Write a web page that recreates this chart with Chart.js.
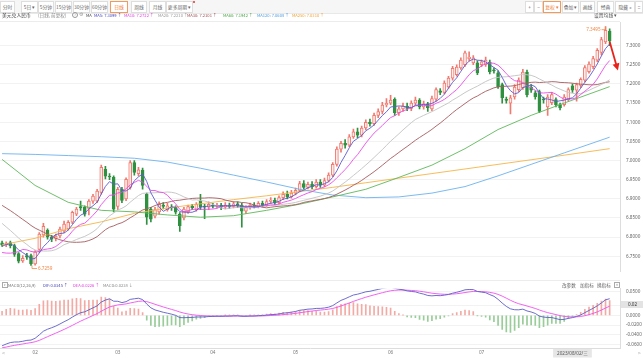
<!DOCTYPE html>
<html lang="zh-CN">
<head>
<meta charset="utf-8">
<title>美元兑人民币</title>
<script src="https://cdn.jsdelivr.net/npm/chart.js@4.4.1/dist/chart.umd.min.js"></script>
<style>
html,body{margin:0;padding:0;background:#fff;}
body{position:relative;width:643px;height:358px;overflow:hidden;font-family:"Noto Sans CJK SC","Noto Sans",sans-serif;}
canvas{position:absolute;left:0;}
.ui{position:absolute;white-space:nowrap;z-index:5;}
#row1{left:0;top:0;width:643px;height:14px;background:#f6f6f6;border-bottom:1px solid #e8e8e8;box-sizing:border-box;}
.tab{position:absolute;top:1px;height:12px;box-sizing:border-box;border:1px solid #dedede;background:#fff;color:#666;font-size:4.8px;line-height:10px;text-align:center;white-space:nowrap;}
.tab.on{border-color:#f29a5a;color:#f07a30;}
.t{position:absolute;white-space:nowrap;font-size:4.5px;line-height:6px;z-index:5;}
.lg{font-size:4.1px;}
.hl{position:absolute;left:0;width:620px;height:1px;background:#ececec;z-index:4;}
</style>
</head>
<body>
<canvas id="main" width="643" height="280" style="top:0"></canvas>
<canvas id="macd" width="643" height="78" style="top:280px"></canvas>

<div id="row1" class="ui">
  <div class="tab" style="left:0;width:15px">分时</div>
  <div class="tab" style="left:21px;width:17px">5日 ▾</div>
  <div class="tab" style="left:38px;width:16px">5分钟</div>
  <div class="tab" style="left:55px;width:17px">15分钟</div>
  <div class="tab" style="left:73px;width:17px">30分钟</div>
  <div class="tab" style="left:91px;width:17px">60分钟</div>
  <div class="tab on" style="left:110px;width:18px">日线</div>
  <div class="tab" style="left:131px;width:16px">周线</div>
  <div class="tab" style="left:149px;width:17px">月线</div>
  <div class="tab" style="left:166px;width:27px">更多周期 ▾</div>
  <div class="ui" style="left:193px;top:1px;width:2px;height:2px;border-radius:1px;background:#e53030"></div>
  <div class="tab" style="left:525px;width:9px">+</div>
  <div class="tab" style="left:534px;width:9px">−</div>
  <div class="tab on" style="left:543px;width:18px">复权 ▾</div>
  <div class="tab" style="left:562px;width:17px">叠加 ▾</div>
  <div class="tab" style="left:580px;width:15px">画线</div>
  <div class="tab" style="left:597px;width:17px">经典</div>
  <div class="tab" style="left:615px;width:20px">隐藏 »</div>
  <div class="tab" style="left:635px;width:8px">::</div>
</div>

<div class="t" style="left:2px;top:11.5px;color:#333;font-size:4.8px">美元兑人民币</div>
<div class="t" style="left:38px;top:11.5px;color:#888;font-size:4.6px">(日线, 前复权)</div>
<div class="ui" style="left:72px;top:12px;width:4px;height:4px;border:0.6px solid #999;border-radius:50%;font-size:3.4px;line-height:4px;text-align:center;color:#888">?</div>
<div class="t" style="left:78.5px;top:11.2px;color:#999;font-size:5px">⚙</div>
<div class="t lg" style="left:86px;top:11.5px;color:#444">MA</div>
<div id="maLegend"></div>
<div class="t" style="left:594px;top:11.5px;color:#555;font-size:4.8px">设置均线 ▾</div>
<div class="hl" style="top:21px"></div>

<div class="hl" style="top:280px"></div>
<div class="ui" style="left:2px;top:282px;width:4px;height:4px;border:0.6px solid #aaa;font-size:3px;line-height:4px;text-align:center;color:#888">▾</div>
<div id="macdLegend"></div>
<div class="t" style="left:562px;top:282px;color:#666;font-size:4.6px">改参数</div>
<div class="t" style="left:580px;top:282px;color:#666;font-size:4.6px">加指标</div>
<div class="t" style="left:597px;top:282px;color:#666;font-size:4.6px">换指标</div>
<div class="ui" style="left:614px;top:282px;width:4px;height:4px;border:0.6px solid #aaa;font-size:3.4px;line-height:4px;text-align:center;color:#888">×</div>
<div class="t" style="left:2px;top:349.5px;color:#999;font-size:5px">&lt;</div>
<div class="t" style="left:638px;top:349.5px;color:#999;font-size:5px">&gt;</div>

<script>
// ---------------- data ----------------
const opens = [6.785,6.780,6.786,6.778,6.757,6.738,6.752,6.752,6.730,6.768,
 6.806,6.818,6.800,6.797,6.803,6.816,6.822,6.839,6.860,6.880,
 6.878,6.875,6.894,6.894,6.917,6.977,6.959,6.956,6.880,6.925,
 6.900,6.930,6.995,6.966,6.975,6.912,6.873,6.855,6.866,6.884,
 6.872,6.878,6.878,6.860,6.850,6.866,6.881,6.872,6.894,6.880,
 6.878,6.882,6.881,6.883,6.878,6.884,6.880,6.887,6.884,6.868,
 6.878,6.884,6.880,6.888,6.884,6.893,6.897,6.890,6.903,6.912,
 6.906,6.915,6.922,6.940,6.930,6.938,6.932,6.944,6.936,6.948,
 6.962,6.990,7.030,7.045,7.040,7.062,7.075,7.066,7.085,7.100,
 7.096,7.118,7.128,7.145,7.150,7.160,7.125,7.135,7.142,7.136,
 7.150,7.158,7.140,7.148,7.135,7.160,7.182,7.178,7.192,7.215,
 7.224,7.242,7.250,7.266,7.255,7.255,7.250,7.250,7.257,7.236,
 7.229,7.198,7.160,7.150,7.166,7.185,7.190,7.231,7.192,7.177,
 7.180,7.160,7.140,7.151,7.159,7.146,7.146,7.159,7.195,7.184,
 7.196,7.210,7.232,7.245,7.262,7.282,7.310,7.338];
const highs = [6.790,6.788,6.790,6.782,6.760,6.752,6.758,6.756,6.765,6.812,
 6.836,6.822,6.805,6.808,6.826,6.842,6.843,6.868,6.878,6.894,
 6.882,6.898,6.912,6.925,6.988,6.985,6.966,6.960,6.930,6.930,
 6.955,7.000,7.000,6.982,6.980,6.915,6.878,6.878,6.892,6.890,
 6.888,6.885,6.882,6.864,6.878,6.884,6.886,6.890,6.912,6.886,
 6.892,6.888,6.888,6.888,6.890,6.889,6.893,6.892,6.888,6.882,
 6.889,6.890,6.893,6.894,6.898,6.903,6.902,6.908,6.918,6.920,
 6.922,6.928,6.946,6.948,6.944,6.945,6.950,6.950,6.954,6.968,
 6.995,7.036,7.050,7.055,7.068,7.082,7.085,7.090,7.106,7.108,
 7.124,7.135,7.152,7.162,7.170,7.164,7.140,7.150,7.150,7.156,
 7.166,7.162,7.155,7.152,7.168,7.190,7.188,7.208,7.220,7.246,
 7.250,7.268,7.286,7.284,7.274,7.260,7.262,7.270,7.262,7.242,
 7.234,7.202,7.166,7.170,7.198,7.216,7.238,7.236,7.198,7.182,
 7.184,7.166,7.172,7.178,7.164,7.150,7.172,7.190,7.200,7.202,
 7.216,7.248,7.258,7.272,7.292,7.322,7.3495,7.344];
const lows = [6.776,6.775,6.772,6.750,6.733,6.734,6.742,6.7259,6.727,6.760,
 6.800,6.795,6.788,6.790,6.798,6.812,6.818,6.835,6.856,6.870,
 6.855,6.858,6.888,6.890,6.912,6.952,6.950,6.866,6.872,6.890,
 6.895,6.925,6.962,6.960,6.925,6.833,6.840,6.850,6.860,6.874,
 6.868,6.870,6.860,6.815,6.845,6.862,6.872,6.868,6.872,6.848,
 6.872,6.876,6.876,6.872,6.874,6.875,6.876,6.877,6.826,6.862,
 6.873,6.876,6.876,6.879,6.880,6.888,6.885,6.886,6.898,6.900,
 6.902,6.910,6.918,6.925,6.926,6.926,6.928,6.930,6.932,6.944,
 6.958,6.985,7.022,7.032,7.036,7.058,7.060,7.062,7.080,7.090,
 7.092,7.112,7.122,7.140,7.146,7.118,7.118,7.128,7.130,7.130,
 7.145,7.135,7.134,7.128,7.130,7.155,7.172,7.174,7.188,7.210,
 7.220,7.238,7.246,7.260,7.250,7.224,7.245,7.246,7.226,7.228,
 7.188,7.150,7.150,7.122,7.160,7.180,7.186,7.166,7.178,7.160,
 7.125,7.150,7.118,7.146,7.140,7.132,7.142,7.155,7.178,7.155,
 7.190,7.205,7.228,7.240,7.258,7.276,7.305,7.300];
const closes = [6.780,6.784,6.778,6.755,6.737,6.745,6.748,6.730,6.762,6.808,
 6.828,6.800,6.795,6.803,6.821,6.834,6.839,6.865,6.873,6.876,
 6.860,6.894,6.907,6.920,6.982,6.959,6.957,6.873,6.925,6.896,
 6.951,6.995,6.969,6.976,6.935,6.852,6.847,6.872,6.886,6.880,
 6.882,6.876,6.865,6.830,6.873,6.880,6.877,6.886,6.878,6.878,
 6.886,6.881,6.883,6.878,6.884,6.880,6.887,6.882,6.868,6.878,
 6.884,6.880,6.888,6.884,6.893,6.897,6.890,6.903,6.912,6.906,
 6.915,6.922,6.940,6.930,6.938,6.932,6.944,6.936,6.948,6.962,
 6.990,7.030,7.045,7.040,7.062,7.075,7.066,7.085,7.100,7.096,
 7.118,7.128,7.145,7.150,7.158,7.125,7.135,7.142,7.136,7.150,
 7.158,7.140,7.148,7.138,7.162,7.185,7.178,7.202,7.215,7.241,
 7.244,7.262,7.281,7.270,7.268,7.229,7.258,7.262,7.232,7.234,
 7.193,7.164,7.157,7.164,7.192,7.210,7.231,7.172,7.184,7.167,
 7.128,7.158,7.166,7.172,7.146,7.138,7.166,7.185,7.184,7.198,
 7.212,7.243,7.252,7.266,7.288,7.316,7.340,7.312];
// closes before the first visible day (implied by the MA lines at the left edge)
const priorCloses = [6.99,6.98,6.98,6.97,6.98,6.97,6.98,6.97,6.97,6.98,
 6.97,6.96,6.95,6.94,6.92,6.91,6.90,6.88,6.86,6.83,
 6.80,6.78,6.74,6.71,6.69,6.76,6.77,6.78,6.79];
// long moving averages at sample days
const maSampleIdx = [0,8,16,24,32,40,48,56,64,72,80,88,96,104,112,120,128,136,147];
const ma60Val  = [7.003,6.935,6.891,6.870,6.866,6.858,6.852,6.856,6.870,6.886,6.905,6.925,6.956,6.988,7.031,7.081,7.118,7.150,7.193];
const ma120Val = [7.018,7.016,7.013,7.010,7.006,6.996,6.980,6.962,6.944,6.925,6.910,6.903,6.905,6.915,6.932,6.960,6.990,7.020,7.061];
const ma250Val = [6.780,6.797,6.822,6.840,6.862,6.876,6.887,6.898,6.908,6.919,6.930,6.942,6.954,6.966,6.978,6.990,7.002,7.014,7.031];
// MACD EMA state on the day before the first visible day
const macdSeed = {ema12: 6.800, ema26: 6.866, dea: -0.068};
// legend values as shown
const maNames = ['MA5','MA10','MA20','MA30','MA60','MA120','MA250'];
const maLegendValues = ['7.3099','7.2722','7.2210','7.2101','7.1942','7.0608','7.0310'];
const macdNames = ['DIF','DEA','MACD'];
const macdLegendValues = ['0.0345','0.0226','0.0238'];
const macdLegendArrows = ['↑','↑','↓'];
// axis ticks
const yTicks = [6.75,6.80,6.85,6.90,6.95,7.00,7.05,7.10,7.15,7.20,7.25,7.30];
const macdTicks = [0.05,0.02,0,-0.02,-0.04,-0.06];
const firstDay = [2023,0,20];
const crosshairIndex = 138;
const arrowFrom = {index:147, value:7.310};
const arrowTo = {index:149, value:7.235};

// ---------------- derived tables ----------------
const weekNames = ['日','一','二','三','四','五','六'];
const days = [];
{ const d = new Date(Date.UTC(firstDay[0], firstDay[1], firstDay[2]));
  while (days.length < closes.length) { const w = d.getUTCDay(); if (w !== 0 && w !== 6) days.push(new Date(d)); d.setUTCDate(d.getUTCDate()+1); } }
const pad = n => String(n).padStart(2,'0');
const categories = days.map(d => d.getUTCFullYear()+'-'+pad(d.getUTCMonth()+1)+'-'+pad(d.getUTCDate())).concat(['', ' ']);
const monthTickLabels = categories.map((c,i) => (i>0 && i<days.length && days[i].getUTCMonth() !== days[i-1].getUTCMonth()) ? pad(days[i].getUTCMonth()+1) : '');

const allCloses = priorCloses.concat(closes);
function sma(n){ return closes.map((_,i)=>{ const end = priorCloses.length+i; let s=0; for(let k=end-n+1;k<=end;k++) s+=allCloses[k]; return s/n; }); }
function sparse(vals){ const a = closes.map(()=>null); maSampleIdx.forEach((k,j)=>{ a[k]=vals[j]; }); return a; }

const maColors = ['#5a5ad0','#ea4cea','#c2c2c2','#a65a5e','#5fb85a','#6cb2ee','#f5b447'];
const maLegendColors = ['#4646c0','#e040e0','#9a9a9a','#9c4f53','#4aa845','#4a9be0','#eea030'];
const maData = [sma(5), sma(10), sma(20), sma(30), sparse(ma60Val), sparse(ma120Val), sparse(ma250Val)];

const up = closes.map((c,i)=> c >= opens[i]);
const RED = '#f07a70', RED_FILL = '#fdeeec', GREEN = '#2f9140';
const bodies = closes.map((c,i)=>[opens[i], c]);
const wicks = closes.map((c,i)=>[lows[i], highs[i]]);

let e12 = macdSeed.ema12, e26 = macdSeed.ema26, dea = macdSeed.dea;
const difArr = [], deaArr = [], histArr = [];
closes.forEach(c => { e12 += (c-e12)*2/13; e26 += (c-e26)*2/27; const d = e12-e26; dea += (d-dea)*2/10;
  difArr.push(d); deaArr.push(dea); histArr.push(2*(d-dea)); });

// ---------------- legends (HTML text) ----------------
const maLegendX = [94,124,158,187,223,257,292];
document.getElementById('maLegend').innerHTML = maNames.map((n,i)=>
  `<div class="t lg" style="left:${maLegendX[i]}px;top:11.5px;color:${maLegendColors[i]}">${n}: ${maLegendValues[i]} ↑</div>`).join('');
const macdColors = ['#4646b8','#e040e0','#888'];
const macdLegendX = [43,73,103];
document.getElementById('macdLegend').innerHTML =
  `<div class="t lg" style="left:8px;top:282px;color:#777">MACD(12,26,9)</div>` +
  macdNames.map((n,i)=>`<div class="t lg" style="left:${macdLegendX[i]}px;top:282px;color:${macdColors[i]}">${n}:${macdLegendValues[i]} ${macdLegendArrows[i]}</div>`).join('');

// ---------------- charts ----------------
Chart.defaults.font.family = '"Noto Sans","Noto Sans CJK SC",sans-serif';
const FONT = {size:4.6, family:'"Noto Sans","DejaVu Sans",sans-serif'};

const mainMarks = {
  id:'mainMarks',
  afterDatasetsDraw(chart){
    const {ctx, scales:{x,y}} = chart;
    let hi=0, lo=0;
    highs.forEach((v,i)=>{ if(v>highs[hi]) hi=i; });
    lows.forEach((v,i)=>{ if(v<lows[lo]) lo=i; });
    ctx.save();
    ctx.strokeStyle = '#f08a4a'; ctx.fillStyle = '#f08a4a'; ctx.lineWidth = 0.8;
    ctx.font = '4.6px "Noto Sans"'; ctx.textBaseline = 'middle';
    const xh = x.getPixelForValue(hi), yh = y.getPixelForValue(highs[hi]);
    ctx.beginPath(); ctx.moveTo(xh, yh); ctx.lineTo(xh, yh+3); ctx.lineTo(xh-4, yh+3); ctx.stroke();
    ctx.textAlign = 'right'; ctx.fillText(highs[hi].toFixed(4), xh-5, yh+3);
    const xl = x.getPixelForValue(lo), yl = y.getPixelForValue(lows[lo]);
    ctx.beginPath(); ctx.moveTo(xl+1, yl); ctx.lineTo(xl+1, yl+3); ctx.lineTo(xl+6, yl+3); ctx.stroke();
    ctx.textAlign = 'left'; ctx.fillText(lows[lo].toFixed(4), xl+7, yl+3);
    // red arrow
    const x1 = x.getPixelForValue(arrowFrom.index), y1 = y.getPixelForValue(arrowFrom.value);
    const x2 = x.getPixelForValue(arrowTo.index), y2 = y.getPixelForValue(arrowTo.value);
    const ang = Math.atan2(y2-y1, x2-x1);
    ctx.strokeStyle = '#e8231a'; ctx.fillStyle = '#e8231a'; ctx.lineWidth = 1.8;
    ctx.beginPath(); ctx.moveTo(x1,y1); ctx.lineTo(x2-4*Math.cos(ang), y2-4*Math.sin(ang)); ctx.stroke();
    ctx.beginPath(); ctx.moveTo(x2,y2);
    ctx.lineTo(x2-7*Math.cos(ang)+3.5*Math.sin(ang), y2-7*Math.sin(ang)-3.5*Math.cos(ang));
    ctx.lineTo(x2-7*Math.cos(ang)-3.5*Math.sin(ang), y2-7*Math.sin(ang)+3.5*Math.cos(ang));
    ctx.closePath(); ctx.fill();
    ctx.restore();
  }
};

new Chart(document.getElementById('main'), {
  type:'bar',
  data:{
    labels: categories,
    datasets: [
      ...maNames.map((n,i)=>({type:'line', label:n, data:maData[i], borderColor:maColors[i], borderWidth:0.9,
        pointRadius:0, tension:0, spanGaps:true, order:0})),
      {type:'bar', label:'body', data:bodies, grouped:false, barThickness:3, minBarLength:1, borderWidth:1, borderSkipped:false,
        backgroundColor: up.map(u=>u?RED_FILL:GREEN), borderColor: up.map(u=>u?RED:GREEN), order:1},
      {type:'bar', label:'wick', data:wicks, grouped:false, barThickness:1, borderWidth:0,
        backgroundColor: up.map(u=>u?RED:GREEN), order:2}
    ]
  },
  options:{
    responsive:false, animation:false, events:[],
    layout:{padding:{top:22, bottom:8, left:0, right:0}},
    plugins:{legend:{display:false}, tooltip:{enabled:false}},
    scales:{
      x:{type:'category', offset:true, display:false},
      y:{position:'right', min:6.711, max:7.3617,
        afterBuildTicks: s => { s.ticks = yTicks.map(v=>({value:v})); },
        afterFit: s => { s.width = 23; },
        grid:{color:'#f2f2f2', drawTicks:false},
        border:{display:true, color:'#dddddd'},
        ticks:{padding:6, font:FONT, color:'#666', callback: v => Number(v).toFixed(4)}}
    }
  },
  plugins:[mainMarks]
});

const macdMarks = {
  id:'macdMarks',
  afterDraw(chart){
    const {ctx, scales:{x,y}, chartArea} = chart;
    ctx.save();
    const v = parseFloat(macdLegendValues[1]);
    const ty = y.getPixelForValue(v);
    ctx.fillStyle = '#e3e3e3'; ctx.fillRect(chartArea.right+1, ty-3.5, 22, 7);
    ctx.fillStyle = '#333'; ctx.font = '4.6px "Noto Sans"'; ctx.textBaseline = 'middle'; ctx.textAlign = 'left';
    ctx.fillText(v.toFixed(2), chartArea.right+8, ty);
    const d = days[crosshairIndex];
    const txt = d.getUTCFullYear()+'/'+pad(d.getUTCMonth()+1)+'/'+pad(d.getUTCDate())+'/'+weekNames[d.getUTCDay()];
    ctx.font = '4.6px "Noto Sans","Noto Sans CJK SC"';
    const w = ctx.measureText(txt).width + 8;
    const cx = x.getPixelForValue(crosshairIndex);
    ctx.fillStyle = '#e6e6e6'; ctx.fillRect(cx-w/2, chartArea.bottom+1, w, 8.5);
    ctx.fillStyle = '#555'; ctx.textAlign = 'center'; ctx.fillText(txt, cx, chartArea.bottom+5.3);
    ctx.restore();
  }
};

new Chart(document.getElementById('macd'), {
  type:'bar',
  data:{
    labels: categories,
    datasets:[
      {type:'line', label:'DIF', data:difArr, borderColor:'#5c5cc8', borderWidth:0.9, pointRadius:0, tension:0, order:0},
      {type:'line', label:'DEA', data:deaArr, borderColor:'#f050f0', borderWidth:0.9, pointRadius:0, tension:0, order:0},
      {type:'bar', label:'MACD', data:histArr, barThickness:1, borderWidth:0,
        backgroundColor: histArr.map(v=>v>=0?'#f4aaa4':'#98cc98'), order:2}
    ]
  },
  options:{
    responsive:false, animation:false, events:[],
    layout:{padding:{top:8, bottom:0, left:0, right:0}},
    plugins:{legend:{display:false}, tooltip:{enabled:false}},
    scales:{
      x:{type:'category', offset:true, grid:{display:false, drawTicks:false}, border:{display:true, color:'#dddddd'},
        afterFit: s => { s.height = 10; },
        ticks:{autoSkip:false, maxRotation:0, minRotation:0, padding:2, font:FONT, color:'#777',
          callback: (v,i) => monthTickLabels[i]}},
      y:{position:'right', min:-0.0673, max:0.0551,
        afterBuildTicks: s => { s.ticks = macdTicks.map(v=>({value:v})); },
        afterFit: s => { s.width = 23; },
        grid:{color:'#f2f2f2', drawTicks:false},
        border:{display:true, color:'#dddddd'},
        ticks:{padding:6, font:FONT, color:'#666', callback: v => Number(v).toFixed(4)}}
    }
  },
  plugins:[macdMarks]
});
</script>
</body>
</html>
